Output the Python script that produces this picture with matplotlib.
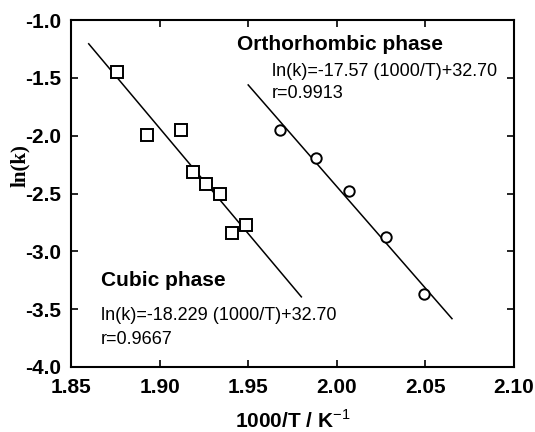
import numpy as np
import matplotlib
matplotlib.use("Agg")
import matplotlib.pyplot as plt

plt.rcParams['font.family'] = ['Liberation Sans', 'DejaVu Sans']
plt.rcParams['mathtext.fontset'] = 'custom'
plt.rcParams['mathtext.rm'] = 'Liberation Sans'
plt.rcParams['mathtext.bf'] = 'Liberation Sans:bold'

# cubic phase data (squares)
cub_x = [1.876, 1.893, 1.912, 1.919, 1.926, 1.934, 1.941, 1.949]
cub_y = [-1.45, -1.99, -1.95, -2.31, -2.42, -2.50, -2.84, -2.77]
# orthorhombic phase data (circles)
orth_x = [1.968, 1.988, 2.007, 2.028, 2.049]
orth_y = [-1.95, -2.19, -2.48, -2.88, -3.37]

# fitted lines: slope, intercept, x range
cub_fit = (-18.229, 32.70)
cub_range = (1.860, 1.980)
orth_fit = (-17.57, 32.70)
orth_range = (1.950, 2.065)

xticks = [1.85, 1.90, 1.95, 2.00, 2.05, 2.10]
yticks = [-4.0, -3.5, -3.0, -2.5, -2.0, -1.5, -1.0]

fig = plt.figure(figsize=(5.35, 4.32), dpi=100)
ax = fig.add_axes([71/535, 65/432, 443/535, 347/432])

for fit, rng in [(cub_fit, cub_range), (orth_fit, orth_range)]:
    xx = np.array(rng)
    ax.plot(xx, fit[0]*xx + fit[1], color='black', lw=1.1, zorder=2)

ax.plot(cub_x, cub_y, 's', ms=8, mfc='white', mec='black', mew=1.4, zorder=3)
ax.plot(orth_x, orth_y, 'o', ms=7.5, mfc='white', mec='black', mew=1.4, zorder=3)

ax.set_xlim(1.85, 2.10)
ax.set_ylim(-4.0, -1.0)
ax.set_xticks(xticks)
ax.set_yticks(yticks)
ax.set_xticklabels(['%.2f' % v for v in xticks], fontweight='bold', fontsize=15)
ax.set_yticklabels(['%.1f' % v for v in yticks], fontweight='bold', fontsize=15)
ax.tick_params(direction='in', length=5, width=1.2, top=True, right=True)
ax.tick_params(axis='x', pad=8)
ax.tick_params(axis='y', pad=7)
for s in ax.spines.values():
    s.set_linewidth(1.5)

ax.text(237/535, 1-45/432, 'Orthorhombic phase', transform=fig.transFigure,
        fontsize=15, fontweight='bold', va='center', ha='left')
ax.text(272/535, 1-71/432, 'ln(k)=-17.57 (1000/T)+32.70', transform=fig.transFigure,
        fontsize=13, va='center', ha='left')
ax.text(272/535, 1-94/432, 'r=0.9913', transform=fig.transFigure,
        fontsize=13, va='center', ha='left')

ax.text(101/535, 1-281/432, 'Cubic phase', transform=fig.transFigure,
        fontsize=15, fontweight='bold', va='center', ha='left')
ax.text(101/535, 1-315/432, 'ln(k)=-18.229 (1000/T)+32.70', transform=fig.transFigure,
        fontsize=13, va='center', ha='left')
ax.text(101/535, 1-339/432, 'r=0.9667', transform=fig.transFigure,
        fontsize=13, va='center', ha='left')

fig.text(20/535, 1-166/432, 'ln(k)', rotation=90, fontsize=15, fontweight='bold',
         family='Liberation Serif', ha='center', va='center')
fig.text(293/535, 1-420/432, r'1000/T / K$^{-1}$', fontsize=15, fontweight='bold',
         ha='center', va='center')

fig.savefig('out.png', dpi=100)
